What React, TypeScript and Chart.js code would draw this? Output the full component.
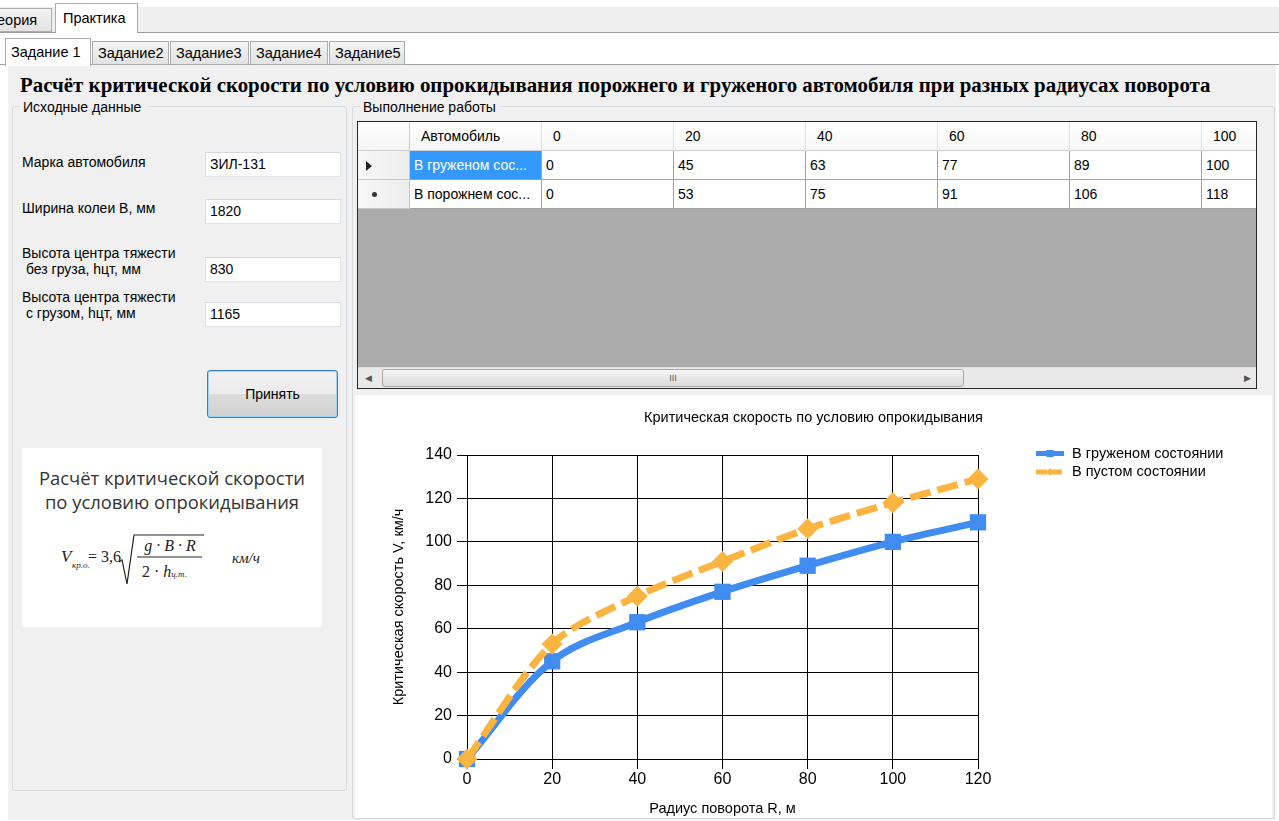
import React, { useEffect, useRef } from "react";
import { Chart, registerables } from "chart.js";

Chart.register(...registerables);

// ---------- data ----------
const radii = [0, 20, 40, 60, 80, 100, 120];
const loadedSpeeds = [0, 45, 63, 77, 89, 100, 109];
const emptySpeeds = [0, 53, 75, 91, 106, 118, 129];
const seriesLabels = ["В груженом состоянии", "В пустом состоянии"];
const chartTitle = "Критическая скорость по условию опрокидывания";
const xTitle = "Радиус поворота R, м";
const yTitle = "Критическая скорость V, км/ч";
const tableHeader = ["Автомобиль", "0", "20", "40", "60", "80", "100"];
const tableRowNames = ["В груженом сос...", "В порожнем сос..."];
const tableLoaded = loadedSpeeds.slice(0, 6);
const tableEmpty = emptySpeeds.slice(0, 6);

const BLUE = "#418CF0";
const ORANGE = "#FCB441";
const SANS = "'Liberation Sans', Arial, sans-serif";

function hasFont(name: string): boolean {
  const c = document.createElement("canvas").getContext("2d");
  if (!c) return false;
  const s = "0123456789abcdefАБВ";
  c.font = "40px monospace";
  const a = c.measureText(s).width;
  c.font = `40px "${name}", monospace`;
  const b = c.measureText(s).width;
  return Math.abs(a - b) > 0.5;
}

const legendPlugin = {
  id: "sideLegend",
  afterDraw(chart: any) {
    const { ctx, chartArea } = chart;
    const x0 = chartArea.right + 58;
    ctx.save();
    chart.data.datasets.forEach((ds: any, i: number) => {
      const y = chartArea.top - 1.5 + i * 18.5;
      ctx.strokeStyle = ds.borderColor;
      ctx.fillStyle = ds.borderColor;
      ctx.lineWidth = 5;
      ctx.setLineDash(i === 1 ? [11, 4] : []);
      ctx.beginPath();
      ctx.moveTo(x0, y);
      ctx.lineTo(x0 + 28, y);
      ctx.stroke();
      ctx.setLineDash([]);
      const cx = x0 + 14;
      if (i === 0) {
        ctx.fillRect(cx - 3.5, y - 3.5, 7, 7);
      } else {
        ctx.beginPath();
        ctx.moveTo(cx, y - 4);
        ctx.lineTo(cx + 4, y);
        ctx.lineTo(cx, y + 4);
        ctx.lineTo(cx - 4, y);
        ctx.closePath();
        ctx.fill();
      }
      ctx.fillStyle = "#000";
      ctx.font = `14.5px ${SANS}`;
      ctx.textBaseline = "middle";
      ctx.textAlign = "left";
      ctx.fillText(ds.label, x0 + 36, y);
    });
    ctx.restore();
  },
};

function CriticalChart() {
  const ref = useRef<HTMLCanvasElement>(null);
  useEffect(() => {
    if (!ref.current) return;
    const narrow = hasFont("Liberation Sans Narrow");
    const tickFont = narrow
      ? { family: "'Liberation Sans Narrow', 'Liberation Sans', Arial", size: 19 }
      : { family: SANS, size: 16 };
    const xTickPad = narrow ? 0 : 1.4;
    const titleFont = { family: SANS, size: 14.5, weight: "normal" as const };
    const chart = new Chart(ref.current, {
      type: "line",
      data: {
        datasets: [
          {
            label: seriesLabels[0],
            data: radii.map((r, i) => ({ x: r, y: loadedSpeeds[i] })),
            borderColor: BLUE,
            backgroundColor: BLUE,
            borderWidth: 7,
            borderJoinStyle: "round",
            pointStyle: "rect",
            pointRadius: 11.5,
            pointBorderWidth: 0,
            pointBackgroundColor: BLUE,
            tension: 0.35,
            order: 2,
            clip: false,
            fill: false,
            xAxisID: "x",
            yAxisID: "y",
          },
          {
            label: seriesLabels[1],
            data: radii.map((r, i) => ({ x: r, y: emptySpeeds[i] })),
            borderColor: ORANGE,
            backgroundColor: ORANGE,
            borderWidth: 7,
            borderDash: [21, 7],
            borderJoinStyle: "round",
            pointStyle: "rectRot",
            pointRadius: 10.5,
            pointBorderWidth: 0,
            pointBackgroundColor: ORANGE,
            tension: 0.3,
            order: 1,
            clip: false,
            fill: false,
            xAxisID: "x",
            yAxisID: "y",
          },
        ],
      },
      options: {
        responsive: false,
        animation: false,
        events: [],
        layout: { padding: 0 },
        plugins: {
          legend: { display: false },
          tooltip: { enabled: false },
          title: {
            display: true,
            text: chartTitle,
            color: "#000",
            font: titleFont,
            padding: { top: 14.3, bottom: 28.3 },
          },
        },
        scales: {
          x: {
            type: "linear",
            min: 0,
            max: 120,
            ticks: { stepSize: 20, color: "#000", font: tickFont, padding: xTickPad },
            grid: { color: "#000", lineWidth: 1, tickLength: 10, drawTicks: true },
            border: { color: "#000", width: 1 },
            title: {
              display: true,
              text: xTitle,
              color: "#000",
              font: titleFont,
              padding: { top: 0, bottom: 0.3 },
            },
            afterFit: (s: any) => {
              s.height = 59;
            },
          },
          y: {
            type: "linear",
            min: 0,
            max: 140,
            ticks: { stepSize: 20, color: "#000", font: tickFont, padding: 5 },
            grid: { color: "#000", lineWidth: 1, tickLength: 10, drawTicks: true },
            border: { color: "#000", width: 1 },
            title: {
              display: true,
              text: yTitle,
              color: "#000",
              font: titleFont,
              padding: { top: 35.3, bottom: 0 },
            },
            afterFit: (s: any) => {
              s.width = 112;
            },
          },
          yRight: {
            type: "linear",
            position: "right",
            display: true,
            grid: { display: false, drawTicks: false },
            ticks: { display: false },
            border: { display: false },
            afterFit: (s: any) => {
              s.width = 294;
            },
          },
        },
      } as any,
      plugins: [legendPlugin],
    });
    return () => chart.destroy();
  }, []);
  return (
    <canvas
      ref={ref}
      width={917}
      height={423}
      style={{ position: "absolute", left: 355, top: 395, width: 917, height: 423, background: "#fff" }}
    />
  );
}

const abs = (left: number, top: number, width: number, height: number, extra: any = {}) => ({
  position: "absolute" as const,
  left,
  top,
  width,
  height,
  boxSizing: "border-box" as const,
  ...extra,
});

const tabStyle = (sel: boolean) => ({
  background: sel ? "#fff" : "linear-gradient(#f3f3f3, #e3e3e3)",
  border: "1px solid #acacac",
  borderBottom: sel ? "none" : "1px solid #acacac",
  fontSize: 14.5,
  lineHeight: "22px",
  color: "#000",
  overflow: "hidden",
  whiteSpace: "nowrap" as const,
});

function Input({ top, value }: { top: number; value: string }) {
  return (
    <div
      style={abs(205, top, 136, 25, {
        background: "#fff",
        border: "1px solid #e2e3ea",
        borderTopColor: "#d5d7de",
        fontSize: 14,
        lineHeight: "23px",
        paddingLeft: 4,
      })}
    >
      {value}
    </div>
  );
}

function Label({ top, lines }: { top: number; lines: string[] }) {
  return (
    <div style={abs(22, top, 180, lines.length * 16, { fontSize: 14, lineHeight: "16px", whiteSpace: "pre" })}>
      {lines.join("\n")}
    </div>
  );
}

function Grid() {
  const colW = 132;
  const rowH = 29;
  const cells: any[] = [];
  // header
  tableHeader.forEach((h, i) => {
    cells.push(
      <div
        key={"h" + i}
        style={abs(52 + i * colW, 0, colW, rowH, {
          background: "linear-gradient(#ffffff, #f7f7f7)",
          borderRight: "1px solid #e3e3e3",
          borderBottom: "1px solid #d0d0d0",
          fontSize: 14,
          lineHeight: "28px",
          paddingLeft: 11,
        })}
      >
        {h}
      </div>
    );
  });
  const rows = [tableLoaded, tableEmpty];
  rows.forEach((vals, r) => {
    const top = rowH * (r + 1);
    cells.push(
      <div
        key={"rn" + r}
        style={abs(52, top, colW, rowH, {
          background: r === 0 ? "#3399ff" : "#fff",
          color: r === 0 ? "#fff" : "#000",
          borderRight: "1px solid #a0a0a0",
          borderBottom: "1px solid #a0a0a0",
          fontSize: 14,
          lineHeight: "28px",
          paddingLeft: 4,
          whiteSpace: "nowrap",
          overflow: "hidden",
        })}
      >
        {tableRowNames[r]}
      </div>
    );
    vals.forEach((v, i) => {
      cells.push(
        <div
          key={"c" + r + i}
          style={abs(52 + (i + 1) * colW, top, colW, rowH, {
            background: "#fff",
            borderRight: "1px solid #a0a0a0",
            borderBottom: "1px solid #a0a0a0",
            fontSize: 14,
            lineHeight: "28px",
            paddingLeft: 4,
          })}
        >
          {v}
        </div>
      );
    });
    cells.push(
      <div
        key={"rh" + r}
        style={abs(0, top, 52, rowH, {
          background: "linear-gradient(90deg, #f7f7f7, #ededed)",
          borderRight: "1px solid #c8c8c8",
          borderBottom: "1px solid #c8c8c8",
        })}
      >
        {r === 0 ? (
          <div
            style={abs(8, 10, 0, 0, {
              borderTop: "5px solid transparent",
              borderBottom: "5px solid transparent",
              borderLeft: "6px solid #222",
            })}
          />
        ) : (
          <div style={abs(14, 12, 5, 5, { background: "#333", borderRadius: 3 })} />
        )}
      </div>
    );
  });
  cells.push(
    <div
      key="corner"
      style={abs(0, 0, 52, rowH, {
        background: "linear-gradient(#ffffff, #f4f4f4)",
        borderRight: "1px solid #d0d0d0",
        borderBottom: "1px solid #d0d0d0",
      })}
    />
  );
  return (
    <div style={abs(357, 121, 900, 268, { border: "1px solid #262626", background: "#ababab", overflow: "hidden" })}>
      {cells}
      {/* scrollbar */}
      <div style={abs(0, 245, 898, 21, { background: "#e9e9e9", borderTop: "1px solid #dedede" })}>
        <div style={abs(7, 4, 8, 12, { fontSize: 9, color: "#555", lineHeight: "12px" })}>◀</div>
        <div
          style={abs(24, 1, 582, 18, {
            background: "linear-gradient(#f5f5f5, #dadada)",
            border: "1px solid #a8a8a8",
            borderRadius: 3,
            textAlign: "center",
            fontSize: 9,
            lineHeight: "16px",
            color: "#555",
            letterSpacing: 0,
          })}
        >
          III
        </div>
        <div style={abs(886, 4, 8, 12, { fontSize: 9, color: "#555", lineHeight: "12px" })}>▶</div>
      </div>
    </div>
  );
}

function Formula() {
  const serif = "'Liberation Serif', 'Times New Roman', serif";
  return (
    <div style={abs(22, 448, 300, 179, { background: "#fff" })}>
      <div
        style={abs(0, 18, 300, 50, {
          textAlign: "center",
          fontFamily: "'Open Sans', sans-serif",
          fontSize: 18.4,
          lineHeight: "24px",
          color: "#333",
        })}
      >
        Расчёт критической скорости
        <br />
        по условию опрокидывания
      </div>
      <div style={{ fontFamily: serif, color: "#222" }}>
        <div style={abs(39, 99, 20, 20, { fontStyle: "italic", fontSize: 17, lineHeight: "20px" })}>V</div>
        <div style={abs(50, 110, 25, 14, { fontStyle: "italic", fontSize: 9, lineHeight: "14px" })}>кр.о.</div>
        <div style={abs(66, 99, 40, 20, { fontSize: 16, lineHeight: "20px" })}>= 3,6</div>
        <svg style={abs(96, 80, 90, 60, { overflow: "visible" })} width={90} height={60}>
          <polyline points="1,34 4,32 9,56 16,7 86,7" fill="none" stroke="#222" strokeWidth={1.2} />
          <line x1={19} y1={29} x2={84} y2={29} stroke="#222" strokeWidth={1} />
        </svg>
        <div style={abs(112, 88, 72, 20, { fontStyle: "italic", fontSize: 16, lineHeight: "20px", textAlign: "center" })}>
          g · B · R
        </div>
        <div style={abs(120, 114, 70, 20, { fontSize: 16, lineHeight: "20px" })}>
          2 · <i>h</i>
          <span style={{ fontStyle: "italic", fontSize: 9 }}>ц.т.</span>
        </div>
        <div style={abs(210, 100, 40, 20, { fontStyle: "italic", fontSize: 15, lineHeight: "20px" })}>км/ч</div>
      </div>
    </div>
  );
}

export default function App() {
  return (
    <div
      style={{
        position: "fixed",
        left: 0,
        top: 0,
        width: 1279,
        height: 821,
        background: "#fff",
        overflow: "hidden",
        fontFamily: SANS,
        color: "#000",
      }}
    >
      {/* top tab strip */}
      <div style={abs(0, 7, 1279, 26, { background: "#efefef", borderBottom: "1px solid #9c9c9c" })} />
      <div style={abs(-14, 8, 66, 24, { ...tabStyle(false), paddingLeft: 2 })}>Теория</div>
      <div style={abs(55, 3, 83, 30, { ...tabStyle(true), paddingLeft: 7, lineHeight: "28px" })}>Практика</div>
      {/* second tab strip */}
      <div style={abs(0, 64, 1279, 2, { borderTop: "1px solid #a0a0a0" })} />
      <div style={abs(8, 65, 1268, 755, { background: "#f0f0f0" })} />
      {["Задание 1", "Задание2", "Задание3", "Задание4", "Задание5"].map((t, i) => {
        const lefts = [5, 92, 170, 250, 329];
        const widths = [86, 77, 79, 78, 76];
        const sel = i === 0;
        return (
          <div
            key={t}
            style={abs(lefts[i], sel ? 38 : 41, widths[i], sel ? 28 : 24, {
              ...tabStyle(sel),
              paddingLeft: 5,
              lineHeight: sel ? "26px" : "22px",
            })}
          >
            {t}
          </div>
        );
      })}
      {/* heading */}
      <div
        style={abs(20, 71, 1255, 28, {
          fontFamily: "'Liberation Serif', 'Times New Roman', serif",
          fontWeight: "bold",
          fontSize: 20.9,
          lineHeight: "28px",
          whiteSpace: "nowrap",
        })}
      >
        Расчёт критической скорости по условию опрокидывания порожнего и груженого автомобиля при разных радиусах поворота
      </div>
      {/* left group */}
      <div style={abs(12, 106, 335, 685, { border: "1px solid #d5dadf", borderRadius: 3 })} />
      <div style={abs(20, 99, 128, 16, { background: "#f0f0f0", fontSize: 14, lineHeight: "16px", paddingLeft: 3 })}>
        Исходные данные
      </div>
      <Label top={154} lines={["Марка автомобиля"]} />
      <Input top={152} value="ЗИЛ-131" />
      <Label top={200} lines={["Ширина колеи В, мм"]} />
      <Input top={199} value="1820" />
      <Label top={245} lines={["Высота центра тяжести", " без груза, hцт, мм"]} />
      <Input top={257} value="830" />
      <Label top={289} lines={["Высота центра тяжести", " с грузом, hцт, мм"]} />
      <Input top={302} value="1165" />
      <div
        style={abs(207, 370, 131, 48, {
          border: "1px solid #3c7fb1",
          borderRadius: 3,
          boxShadow: "inset 0 0 0 1px #9fd5f6",
          background: "linear-gradient(#f2f2f2 0%, #ebebeb 50%, #dddddd 50%, #cfcfcf 100%)",
          textAlign: "center",
          fontSize: 14,
          lineHeight: "46px",
        })}
      >
        Принять
      </div>
      <Formula />
      {/* right group */}
      <div style={abs(352, 106, 923, 713, { border: "1px solid #d5dadf", borderRadius: 3 })} />
      <div style={abs(360, 99, 140, 16, { background: "#f0f0f0", fontSize: 14, lineHeight: "16px", paddingLeft: 3 })}>
        Выполнение работы
      </div>
      <Grid />
      <CriticalChart />
    </div>
  );
}
